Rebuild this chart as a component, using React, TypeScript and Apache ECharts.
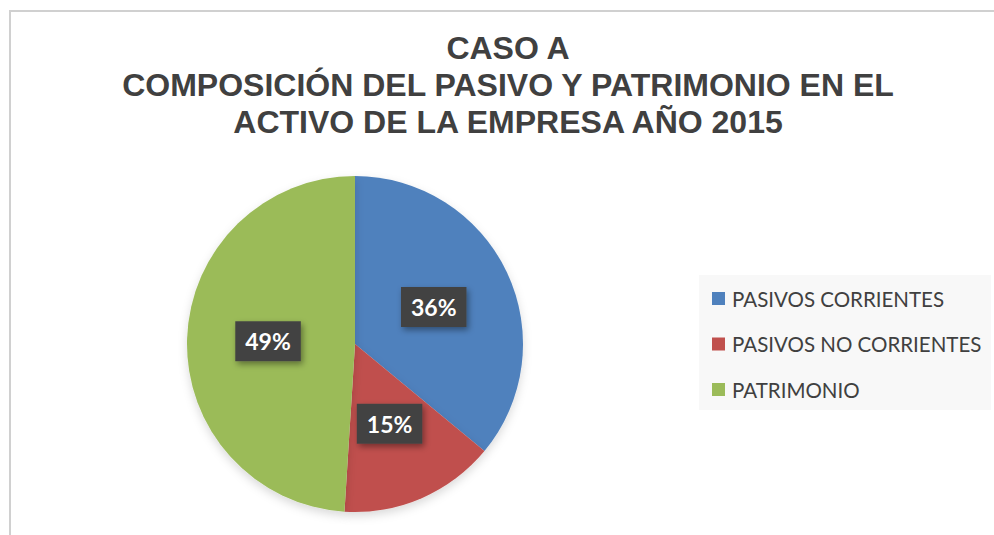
import React, { useEffect, useRef } from "react";
import * as echarts from "echarts";

const categories = ["PASIVOS CORRIENTES", "PASIVOS NO CORRIENTES", "PATRIMONIO"];
const values = [36, 15, 49];
const colors = ["#4f81bd", "#c0504d", "#9bbb59"];
const titleLines = [
  "CASO A",
  "COMPOSICIÓN DEL PASIVO Y PATRIMONIO EN EL",
  "ACTIVO DE LA EMPRESA AÑO 2015",
];

export default function App() {
  const ref = useRef<HTMLDivElement>(null);
  useEffect(() => {
    if (!ref.current) return;
    const chart = echarts.init(ref.current, undefined, { renderer: "svg" });
    chart.setOption({
      animation: false,
      backgroundColor: "#ffffff",
      graphic: [
        {
          type: "rect",
          shape: { x: 10, y: 11, width: 1100, height: 700 },
          style: { fill: "none", stroke: "#d0d0d0", lineWidth: 2 },
          silent: true,
          z: -10,
        },
        {
          type: "rect",
          shape: { x: 699, y: 275, width: 292, height: 135 },
          style: { fill: "#f8f8f8" },
          silent: true,
          z: -5,
        },
        {
          type: "text",
          x: 508,
          y: 29,
          style: {
            text: titleLines.join("\n"),
            fill: "#404040",
            font: "bold 32px 'Liberation Sans', Arial, sans-serif",
            lineHeight: 37,
            textAlign: "center",
            textVerticalAlign: "top",
          },
        },
      ],
      legend: {
        orient: "vertical",
        left: 712,
        top: 288,
        padding: 0,
        itemWidth: 13,
        itemHeight: 13,
        itemGap: 24.5,
        icon: "rect",
        data: categories,
        textStyle: {
          fontFamily: "Lato, sans-serif",
          fontSize: 20.5,
          lineHeight: 20,
          color: "#404040",
          padding: [0, 0, 0, 2],
        },
      },
      series: [
        {
          type: "pie",
          center: [355, 344],
          radius: 168,
          startAngle: 90,
          clockwise: true,
          data: categories.map((c, i) => ({
            name: c,
            value: values[i],
            itemStyle: { color: colors[i] },
          })),
          itemStyle: {
            borderWidth: 0,
            shadowColor: "rgba(0,0,0,0.15)",
            shadowBlur: 10,
            shadowOffsetY: 4,
          },
          label: {
            show: true,
            position: "inside",
            formatter: (p: any) => p.value + "%",
            color: "#ffffff",
            fontFamily: "Lato, sans-serif",
            fontWeight: "bold",
            fontSize: 23,
            lineHeight: 22,
            backgroundColor: "#434343",
            padding: [9, 10],
            shadowColor: "rgba(0,0,0,0.4)",
            shadowBlur: 6,
            shadowOffsetX: 2,
            shadowOffsetY: 3,
          },
          labelLine: { show: false },
          emphasis: { disabled: true },
        },
      ],
    });
    return () => chart.dispose();
  }, []);
  return (
    <div
      ref={ref}
      style={{ position: "absolute", left: 0, top: 0, width: 994, height: 535 }}
    />
  );
}
